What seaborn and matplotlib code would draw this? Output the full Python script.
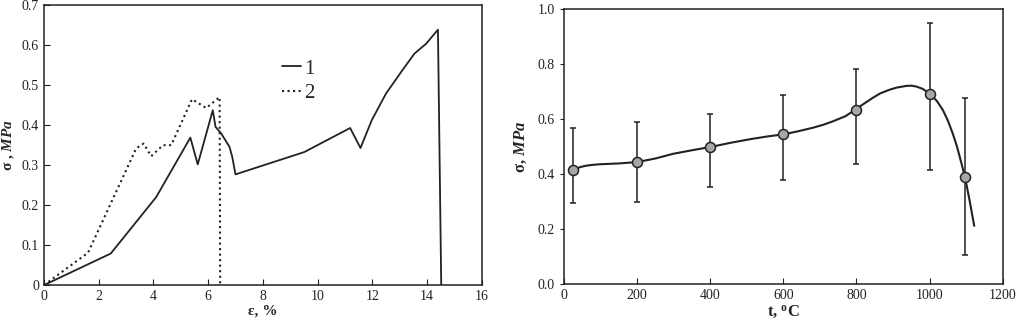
import matplotlib
matplotlib.use("Agg")
import matplotlib.pyplot as plt
import seaborn as sns
import pandas as pd

# Left panel: stress-strain curves
strain_1 = [0, 2.44, 4.1, 5.35, 5.62, 6.17, 6.27, 6.48, 6.78, 6.88, 7.0, 9.52,
            11.19, 11.57, 11.98, 12.5, 13.1, 13.54, 13.97, 14.4, 14.52]
stress_1 = [0, 0.079, 0.22, 0.369, 0.302, 0.4375, 0.396, 0.379, 0.346, 0.321, 0.277,
            0.333, 0.393, 0.343, 0.4125, 0.479, 0.5375, 0.579, 0.604, 0.639, 0]
strain_2 = [0, 1.61, 3.37, 3.64, 3.92, 4.35, 4.65, 5.41, 5.93, 6.36, 6.42, 6.44]
stress_2 = [0, 0.081, 0.342, 0.354, 0.3225, 0.35, 0.35, 0.465, 0.443, 0.467, 0.47, 0]

# Right panel: strength vs temperature
temp = [25, 200, 400, 600, 800, 1000, 1097]
sigma = [0.416, 0.444, 0.499, 0.545, 0.634, 0.693, 0.388]
err_hi = [0.567, 0.588, 0.619, 0.687, 0.781, 0.950, 0.676]
err_lo = [0.295, 0.298, 0.352, 0.378, 0.438, 0.417, 0.107]
# trend curve
curve_t = [25, 45, 61, 80, 97, 150, 200, 250, 298, 350, 401, 455, 508, 555, 601, 640,
           681, 710, 735, 770, 796, 820, 845, 865, 890, 910, 936, 950, 963, 980, 1001,
           1020, 1036, 1050, 1063, 1075, 1085, 1097, 1109, 1122]
curve_s = [0.416, 0.426, 0.431, 0.434, 0.436, 0.439, 0.444, 0.457, 0.474, 0.487, 0.499,
           0.514, 0.527, 0.537, 0.545, 0.556, 0.569, 0.580, 0.592, 0.611, 0.634, 0.656,
           0.678, 0.694, 0.707, 0.715, 0.721, 0.722, 0.719, 0.711, 0.693, 0.666, 0.634,
           0.595, 0.549, 0.500, 0.450, 0.388, 0.307, 0.212]

sns.set_style("ticks")
plt.rcParams["font.family"] = ["Liberation Serif", "DejaVu Serif"]
plt.rcParams["mathtext.fontset"] = "custom"
plt.rcParams["mathtext.rm"] = "Liberation Serif"
plt.rcParams["mathtext.it"] = "Liberation Serif:italic"
plt.rcParams["mathtext.bf"] = "Liberation Serif:bold"
plt.rcParams["mathtext.bfit"] = "Liberation Serif:italic:bold"

fig = plt.figure(figsize=(10.18, 3.30), dpi=100)
ax1 = fig.add_axes([0.0432, 0.136, 0.430, 0.848])
ax2 = fig.add_axes([0.554, 0.139, 0.431, 0.833])

df1 = pd.DataFrame({"x": strain_1, "y": stress_1})
df2 = pd.DataFrame({"x": strain_2, "y": stress_2})
sns.lineplot(data=df1, x="x", y="y", sort=False, color="#222222", lw=1.3, ax=ax1, label="1")
sns.lineplot(data=df2, x="x", y="y", sort=False, color="#222222", lw=1.5, ls=":", ax=ax1, label="2")
ax1.set_xlim(0, 16)
ax1.set_ylim(0, 0.7)
ax1.set_xticks(range(0, 17, 2))
ax1.set_yticks([0, 0.1, 0.2, 0.3, 0.4, 0.5, 0.6, 0.7])
ax1.set_yticklabels(["0", "0.1", "0.2", "0.3", "0.4", "0.5", "0.6", "0.7"])
ax1.tick_params(direction="in", length=4, labelsize=10, colors="#222222")
ax1.set_xlabel("ε, %", fontsize=11, fontweight="bold", labelpad=1)
ax1.set_ylabel(r"σ , $\mathbfit{MPa}$", fontsize=11, fontweight="bold", labelpad=4)
ax1.legend(loc="upper left", bbox_to_anchor=(0.52, 0.845), frameon=False, fontsize=15,
           handlelength=0.9, handletextpad=0.15, labelspacing=0.25, borderpad=0)

curve = pd.DataFrame({"t": curve_t, "s": curve_s})
pts = pd.DataFrame({"t": temp, "s": sigma})
yerr = [[s - lo for s, lo in zip(sigma, err_lo)], [hi - s for s, hi in zip(sigma, err_hi)]]
ax2.errorbar(temp, sigma, yerr=yerr, fmt="none", ecolor="#222222", elinewidth=1.1,
             capsize=2.5, capthick=1.1, zorder=2)
sns.lineplot(data=curve, x="t", y="s", sort=False, color="#222222", lw=1.5, ax=ax2, zorder=3)
sns.scatterplot(data=pts, x="t", y="s", s=52, color="#a6a6a6", edgecolor="#222222",
                linewidth=1.1, ax=ax2, zorder=4)
ax2.set_xlim(0, 1200)
ax2.set_ylim(0, 1.0)
ax2.set_xticks(range(0, 1201, 200))
ax2.set_yticks([0, 0.2, 0.4, 0.6, 0.8, 1.0])
ax2.set_yticklabels(["0.0", "0.2", "0.4", "0.6", "0.8", "1.0"])
ax2.tick_params(axis="x", direction="in", length=4, labelsize=10, colors="#222222")
ax2.tick_params(axis="y", direction="out", length=3, labelsize=10, colors="#222222")
ax2.set_xlabel("t, $\\mathregular{^o}$C", fontsize=12, fontweight="bold", labelpad=1)
ax2.set_ylabel(r"σ, $\mathbfit{MPa}$", fontsize=12, fontweight="bold", labelpad=6)

for ax in (ax1, ax2):
    for sp in ax.spines.values():
        sp.set_visible(True)
        sp.set_color("#222222")
        sp.set_linewidth(1.1)

fig.savefig("out.png", dpi=100)
